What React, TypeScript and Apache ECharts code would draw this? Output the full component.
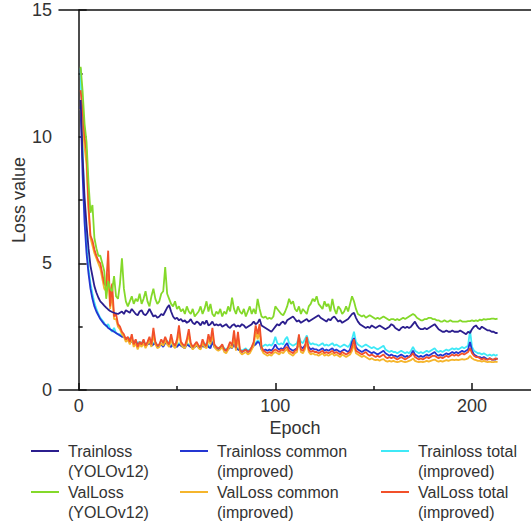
import React, { useEffect, useRef } from "react";
import * as echarts from "echarts";

const seriesNames = [
  "Trainloss\n(YOLOv12)",
  "ValLoss\n(YOLOv12)",
  "Trainloss common\n(improved)",
  "ValLoss common\n(improved)",
  "Trainloss total\n(improved)",
  "ValLoss total\n(improved)",
];
const seriesColors = ["#2B1E8E", "#84D92A", "#2436D2", "#F5B52C", "#3FE9F7", "#F2502A"];

const yTicks = [0, 5, 10, 15];
const xTickLabels = [0, 100, 200];
const xMinorTicks = [50, 150];

const trainYolo = [
  11.45, 9.2, 7.6, 6.5, 5.6, 4.9, 4.5, 4.1, 3.85, 3.65,
  3.5, 3.42, 3.33, 3.25, 3.18, 3.12, 3.08, 3.05, 3.02, 3.0,
  3.05, 3.1, 3.0, 3.15, 3.1, 3.05, 3.2, 3.1, 3.0, 2.95,
  3.1, 3.15, 3.0, 2.95, 3.05, 3.2, 3.05, 2.9, 2.95, 2.85,
  2.9, 3.0, 2.95, 3.1, 3.25, 3.35, 3.1, 2.9, 2.8, 2.85,
  2.75, 2.8, 2.7, 2.75, 2.65, 2.7, 2.8, 2.65, 2.6, 2.7,
  2.65, 2.55, 2.7, 2.6, 2.75, 2.55, 2.6, 2.7, 2.55, 2.6,
  2.55, 2.6, 2.5, 2.55, 2.6, 2.5, 2.45, 2.55, 2.6, 2.5,
  2.55, 2.5, 2.6, 2.55, 2.45, 2.5, 2.55, 2.6, 2.7, 2.6,
  2.65, 2.8, 2.55, 2.5, 2.45, 2.4, 2.35, 2.3, 2.4, 2.5,
  2.6, 2.55, 2.65, 2.7, 2.6, 2.75, 2.8, 2.85, 2.9, 2.8,
  2.7, 2.75, 2.65, 2.7, 2.75, 2.8, 2.7, 2.75, 2.8, 2.85,
  2.9, 2.95, 2.85, 2.8, 2.75, 2.7, 2.8, 2.75, 2.85, 2.9,
  2.8, 2.7, 2.75, 2.65, 2.7, 2.75, 2.8, 2.9, 3.0, 3.05,
  2.85, 2.7, 2.6, 2.55, 2.5, 2.45, 2.5, 2.45, 2.55, 2.5,
  2.45, 2.5, 2.55, 2.5, 2.45, 2.4, 2.45, 2.5, 2.6, 2.55,
  2.45, 2.4, 2.35, 2.45, 2.5, 2.45, 2.5, 2.45, 2.5, 2.6,
  2.7, 2.55, 2.45, 2.4, 2.4, 2.45, 2.4, 2.45, 2.5, 2.55,
  2.6, 2.5, 2.4, 2.35, 2.3, 2.3, 2.35, 2.3, 2.3, 2.35,
  2.3, 2.3, 2.3, 2.35, 2.3, 2.25, 2.2, 2.3, 2.25, 2.4,
  2.5, 2.55, 2.45, 2.4, 2.5, 2.45, 2.4, 2.35, 2.35, 2.3,
  2.3, 2.25, 2.25,
];

const valYolo = [
  12.76, 11.8, 10.5, 9.8, 8.2, 7.0, 7.3, 6.0, 5.6, 5.3,
  5.3, 5.0, 4.7, 3.6, 4.3, 4.0, 3.9, 4.5, 3.7, 3.6,
  4.2, 5.2, 4.0, 3.5, 3.3, 3.5, 3.7, 3.4, 3.6, 3.5,
  3.8, 3.4, 3.6, 3.9, 3.5, 3.3, 3.7, 4.0, 3.6, 3.4,
  3.5, 3.8, 3.9, 4.85, 3.8, 3.6, 3.4, 3.3, 3.5, 3.2,
  3.3, 3.1, 3.2, 3.0, 3.3, 3.1, 3.0, 3.2, 2.9, 3.0,
  3.1, 3.3, 3.0, 3.2, 3.5, 3.1, 3.4, 3.0, 2.9, 3.1,
  3.0, 3.2, 2.9, 3.1, 3.0, 3.3, 3.1, 3.65, 3.2, 3.0,
  3.3, 3.1, 3.0, 3.2, 2.9, 3.1, 3.3, 3.0, 3.2, 3.0,
  3.6, 3.2, 2.9, 2.85, 2.9, 2.8, 2.85, 2.8, 2.9, 3.3,
  3.2, 3.1, 3.0, 2.95, 3.1, 3.3, 3.6, 3.4, 3.5, 3.2,
  3.1, 3.3, 3.0, 3.2, 3.1, 3.0, 3.3, 3.4, 3.6, 3.5,
  3.7, 3.4, 3.3, 3.2, 3.5, 3.3, 3.4, 3.1, 3.6, 3.2,
  3.0, 3.3, 3.2, 3.0, 3.1, 3.3, 3.1, 3.4, 3.7, 3.5,
  3.2, 3.0, 2.95, 2.9, 2.95, 2.85, 2.9, 2.95, 2.9, 2.85,
  2.8, 2.85, 2.8, 2.85, 2.9, 2.85, 2.8, 2.75, 2.8, 2.8,
  2.75, 2.8, 2.75, 2.8, 2.85, 2.8, 2.85, 2.9, 2.95, 3.0,
  2.95, 2.85, 2.8, 2.75, 2.75, 2.8, 2.8, 2.85, 2.85, 2.8,
  2.8, 2.75, 2.75, 2.7, 2.7, 2.75, 2.7, 2.7, 2.75, 2.7,
  2.7, 2.7, 2.7, 2.75, 2.7, 2.7, 2.7, 2.72, 2.72, 2.75,
  2.72, 2.75, 2.72, 2.78, 2.75, 2.8, 2.78, 2.8, 2.8, 2.82,
  2.82, 2.8, 2.82,
];

const trainCommon = [
  11.2, 8.5, 6.6, 5.4, 4.6, 4.0, 3.6, 3.3, 3.1, 2.95,
  2.8, 2.7, 2.6, 2.55, 2.45, 2.4, 2.35, 2.3, 2.25, 2.2,
  2.15, 2.1, 2.1, 2.0, 1.95, 2.0, 1.9, 1.85, 1.9, 1.8,
  1.85, 1.8, 1.9, 1.75, 1.8, 1.85, 1.75, 1.8, 1.85, 1.7,
  1.75, 1.8, 1.7, 1.85, 1.9, 1.75, 1.7, 1.8, 1.75, 1.7,
  1.8, 1.75, 1.7, 1.65, 1.8, 1.75, 1.7, 1.65, 1.7, 1.75,
  1.7, 1.65, 1.75, 1.7, 1.8, 1.7, 1.65, 1.9, 1.7, 1.65,
  1.6, 1.65, 1.7, 1.6, 1.55, 1.6, 1.7, 1.65, 1.8, 1.65,
  1.6, 1.55, 1.5, 1.55, 1.6, 1.5, 1.55, 1.65, 1.75, 1.8,
  1.9, 1.85, 1.6, 1.55, 1.6, 1.55, 1.6, 1.55, 1.65, 1.8,
  1.65, 1.6, 1.65, 1.6, 1.75, 1.85, 1.65, 1.6, 1.55, 1.6,
  1.65, 1.8, 1.7, 1.65, 1.75, 1.85, 1.7, 1.6, 1.65, 1.6,
  1.6, 1.55, 1.6, 1.65, 1.55, 1.6, 1.55, 1.6, 1.65, 1.55,
  1.6, 1.55, 1.5, 1.55, 1.6, 1.55, 1.5, 1.6, 1.9, 2.05,
  1.7, 1.6, 1.55, 1.5, 1.55, 1.6, 1.55, 1.5, 1.45, 1.5,
  1.45, 1.4, 1.45, 1.5, 1.55, 1.45, 1.4, 1.35, 1.4, 1.35,
  1.35, 1.3, 1.35, 1.4, 1.35, 1.3, 1.35, 1.3, 1.4, 1.55,
  1.4, 1.35, 1.3, 1.35, 1.3, 1.35, 1.4, 1.35, 1.4, 1.45,
  1.5, 1.4, 1.35, 1.4, 1.35, 1.4, 1.45, 1.4, 1.45, 1.5,
  1.45, 1.5, 1.45, 1.5, 1.55, 1.5, 1.55, 1.6, 1.9, 1.55,
  1.4, 1.35, 1.3, 1.3, 1.25, 1.3, 1.25, 1.2, 1.25, 1.2,
  1.2, 1.2, 1.25,
];

const valCommon = [
  11.1, 10.4, 9.6, 8.9, 7.1, 6.0, 5.7, 5.4, 5.2, 5.0,
  4.8, 4.4, 4.0, 3.9, 4.6, 3.2, 3.8, 2.8, 2.8, 2.5,
  2.4, 2.2, 2.1, 1.9, 2.0, 1.8, 2.05, 1.7, 1.85, 1.6,
  1.8, 1.7, 1.85, 1.65, 1.8, 1.95, 1.7, 2.2, 1.8, 1.65,
  1.7, 1.85, 1.75, 1.95, 1.8, 1.7, 2.0, 1.75, 1.65, 1.85,
  2.3, 1.8, 1.7, 1.65, 1.85, 2.2, 1.75, 1.6, 1.7, 1.8,
  1.65, 1.6, 1.85, 1.7, 1.65, 2.0, 1.8, 2.2, 1.7, 1.6,
  1.55, 1.6, 1.7, 1.5, 1.45, 1.6, 1.75, 1.65, 2.1, 1.55,
  2.1, 1.5, 1.4, 1.45, 1.5, 1.4, 1.45, 1.6, 1.75, 2.3,
  2.0, 2.35, 1.6, 1.45, 1.4, 1.35, 1.4, 1.35, 1.45, 1.5,
  1.45, 1.4, 1.5, 1.45, 1.55, 1.6, 1.45, 1.4, 1.35, 1.45,
  1.5, 2.0, 1.5, 1.45, 1.6, 1.9, 1.5, 1.4, 1.45, 1.4,
  1.4, 1.35, 1.4, 1.45, 1.35, 1.4, 1.35, 1.4, 1.45, 1.35,
  1.4, 1.35, 1.3, 1.4, 1.35, 1.3, 1.35, 1.4, 1.55, 1.8,
  1.45, 1.4, 1.35, 1.3, 1.35, 1.3, 1.25, 1.2, 1.25, 1.2,
  1.18, 1.2, 1.15, 1.2, 1.22, 1.15, 1.12, 1.15, 1.12, 1.15,
  1.12, 1.1, 1.12, 1.15, 1.12, 1.1, 1.12, 1.15, 1.18, 1.25,
  1.15, 1.12, 1.1, 1.12, 1.1, 1.12, 1.15, 1.12, 1.15, 1.18,
  1.2, 1.15, 1.12, 1.15, 1.12, 1.15, 1.18, 1.15, 1.18, 1.2,
  1.18, 1.2, 1.18, 1.2, 1.22, 1.2, 1.22, 1.25, 1.35, 1.25,
  1.2, 1.18, 1.15, 1.15, 1.12, 1.15, 1.12, 1.1, 1.12, 1.1,
  1.1, 1.12, 1.1,
];

const trainTotal = [
  12.7, 9.5, 7.2, 5.8, 4.8, 4.2, 3.8, 3.45, 3.2, 3.0,
  2.85, 2.75, 2.65, 2.5, 2.6, 2.4, 2.3, 2.45, 2.25, 2.2,
  2.2, 2.15, 2.1, 2.05, 2.0, 2.05, 1.95, 1.9, 1.95, 1.85,
  1.9, 1.85, 1.95, 1.8, 1.85, 1.9, 1.8, 1.85, 1.9, 1.75,
  1.8, 1.85, 1.75, 1.9, 1.95, 1.8, 1.75, 1.85, 1.8, 1.75,
  1.85, 1.8, 1.75, 1.7, 1.85, 1.8, 1.75, 1.7, 1.75, 1.8,
  1.75, 1.7, 1.8, 1.75, 1.85, 1.75, 1.7, 1.95, 1.75, 1.7,
  1.65, 1.7, 1.75, 1.65, 1.6, 1.65, 1.75, 1.7, 1.85, 1.7,
  1.65, 1.6, 1.55, 1.6, 1.65, 1.55, 1.6, 1.7, 1.8, 1.85,
  1.95, 1.9, 1.7, 1.75, 1.8, 1.75, 1.8, 1.75, 1.85, 2.1,
  1.85, 1.8, 1.85, 1.8, 2.0, 2.1, 1.85, 1.8, 1.75, 1.8,
  1.85, 2.1, 1.9, 1.85, 2.0, 2.15, 1.9, 1.8, 1.85, 1.8,
  1.8, 1.75, 1.8, 1.85, 1.75, 1.8, 1.75, 1.8, 1.85, 1.75,
  1.8, 1.75, 1.7, 1.75, 1.8, 1.75, 1.7, 1.8, 2.0, 2.3,
  1.9, 1.8, 1.75, 1.7, 1.75, 1.8, 1.75, 1.7, 1.65, 1.7,
  1.65, 1.6, 1.65, 1.7, 1.75, 1.6, 1.55, 1.5, 1.55, 1.5,
  1.5, 1.45, 1.5, 1.55, 1.5, 1.45, 1.5, 1.45, 1.55, 1.7,
  1.55, 1.5, 1.45, 1.5, 1.45, 1.5, 1.55, 1.5, 1.55, 1.6,
  1.65, 1.55, 1.5, 1.55, 1.5, 1.55, 1.6, 1.55, 1.6, 1.65,
  1.6, 1.65, 1.6, 1.65, 1.7, 1.65, 1.7, 1.75, 2.35, 1.7,
  1.55, 1.5, 1.45, 1.45, 1.4, 1.45, 1.4, 1.35, 1.4, 1.35,
  1.4, 1.35, 1.4,
];

const valTotal = [
  11.84, 11.0, 10.0, 9.4, 7.3, 6.1, 5.9, 5.55, 5.3, 5.1,
  5.0, 4.6, 4.2, 4.1, 5.5, 3.3, 4.2, 2.9, 3.0, 2.6,
  2.5, 2.3, 2.2, 2.0, 2.1, 1.9, 2.2, 1.8, 2.0, 1.7,
  1.9, 1.8, 2.0, 1.75, 1.9, 2.1, 1.8, 2.45, 1.9, 1.75,
  1.8, 2.0, 1.85, 2.1, 1.9, 1.8, 2.2, 1.85, 1.75, 2.0,
  2.55, 1.9, 1.8, 1.75, 2.0, 2.4, 1.85, 1.7, 1.8, 1.9,
  1.75, 1.7, 2.0, 1.8, 1.75, 2.2, 1.9, 2.45, 1.8, 1.7,
  1.65, 1.7, 1.8, 1.6, 1.55, 1.7, 1.9, 1.75, 2.35, 1.65,
  2.3, 1.6, 1.5, 1.55, 1.6, 1.5, 1.55, 1.7, 1.9, 2.55,
  2.2, 2.6, 1.7, 1.55, 1.5, 1.45, 1.5, 1.45, 1.55, 1.6,
  1.55, 1.5, 1.6, 1.55, 1.65, 1.7, 1.55, 1.5, 1.45, 1.55,
  1.6, 2.2, 1.6, 1.55, 1.7, 2.1, 1.6, 1.5, 1.55, 1.5,
  1.5, 1.45, 1.5, 1.55, 1.45, 1.5, 1.45, 1.5, 1.55, 1.45,
  1.5, 1.45, 1.4, 1.5, 1.45, 1.4, 1.45, 1.5, 1.7, 2.0,
  1.55, 1.5, 1.45, 1.4, 1.45, 1.5, 1.4, 1.35, 1.4, 1.35,
  1.3, 1.35, 1.3, 1.35, 1.4, 1.3, 1.25, 1.3, 1.25, 1.3,
  1.25, 1.2, 1.25, 1.3, 1.25, 1.2, 1.25, 1.3, 1.35, 1.45,
  1.3, 1.25, 1.2, 1.25, 1.2, 1.25, 1.3, 1.25, 1.3, 1.35,
  1.35, 1.3, 1.25, 1.3, 1.25, 1.3, 1.35, 1.3, 1.35, 1.4,
  1.35, 1.4, 1.35, 1.4, 1.45, 1.4, 1.45, 1.5, 1.65, 1.45,
  1.35, 1.3, 1.3, 1.25, 1.2, 1.25, 1.2, 1.2, 1.25, 1.2,
  1.2, 1.25, 1.2,
];

const seriesValues = [trainYolo, valYolo, trainCommon, valCommon, trainTotal, valTotal];
const drawOrder = [4, 2, 3, 5, 0, 1];

const FONT = "'Liberation Sans', Arial, Helvetica, sans-serif";
const TEXT = "#333";

export default function App() {
  const ref = useRef<HTMLDivElement>(null);
  useEffect(() => {
    if (!ref.current) return;
    const chart = echarts.init(ref.current, null, { renderer: "svg" });

    const series = drawOrder.map((k) => ({
      type: "line",
      name: seriesNames[k],
      xAxisIndex: 0,
      yAxisIndex: 0,
      symbol: "none",
      data: seriesValues[k].map((v, i) => [i + 1, v]),
      lineStyle: { color: seriesColors[k], width: 1.8 },
      itemStyle: { color: seriesColors[k] },
      emphasis: { disabled: true },
    }));

    const legendCols = [31, 180, 381];
    const legendRows = [453, 494];
    const legends = seriesNames.map((name, k) => ({
      data: [name],
      left: legendCols[Math.floor(k / 2)],
      top: legendRows[k % 2] - 30,
      orient: "vertical",
      padding: 0,
      itemGap: 0,
      itemWidth: 28,
      itemHeight: 2,
      icon: "rect",
      itemStyle: { borderWidth: 0 },
      selectedMode: false,
      formatter: (n: string) => {
        const parts = n.split("\n");
        return "{e|\u00a0}\n{t|" + parts[0] + "}\n{t|" + parts[1] + "}";
      },
      textStyle: {
        fontSize: 16,
        color: TEXT,
        fontFamily: FONT,
        rich: {
          e: { fontSize: 16, lineHeight: 20, fontFamily: FONT },
          t: { fontSize: 16, lineHeight: 20, color: TEXT, fontFamily: FONT, padding: [0, 0, 0, 4] },
        },
      },
    }));

    chart.setOption({
      animation: false,
      backgroundColor: "#fff",
      grid: {
        left: 59,
        right: 0,
        top: 10,
        bottom: 137,
        containLabel: false,
        outerBoundsMode: "none",
      },
      xAxis: [
        {
          type: "value",
          min: -10,
          max: 230,
          position: "bottom",
          name: "Epoch",
          nameLocation: "middle",
          nameGap: 29,
          nameMoveOverlap: false,
          nameTextStyle: { fontSize: 18, color: TEXT, fontFamily: FONT },
          axisLine: { show: true, lineStyle: { color: "#111", width: 1.5 } },
          axisTick: { show: true, inside: true, length: 7, customValues: xTickLabels, lineStyle: { color: "#111", width: 1.5 } },
          axisLabel: { show: true, customValues: xTickLabels, fontSize: 18, color: TEXT, fontFamily: FONT, margin: 7 },
          splitLine: { show: false },
        },
        {
          type: "value",
          min: -10,
          max: 230,
          position: "bottom",
          axisLine: { show: false },
          axisTick: { show: true, inside: true, length: 4, customValues: xMinorTicks, lineStyle: { color: "#111", width: 1.5 } },
          axisLabel: { show: false },
          splitLine: { show: false },
        },
        {
          type: "value",
          min: -10,
          max: 230,
          position: "top",
          axisLine: { show: true, lineStyle: { color: "#111", width: 1.5 } },
          axisTick: { show: false },
          axisLabel: { show: false },
          splitLine: { show: false },
        },
      ],
      yAxis: {
        type: "value",
        min: 0,
        max: 15,
        interval: 5,
        name: "Loss value",
        nameLocation: "middle",
        nameGap: 31,
        nameMoveOverlap: false,
        nameTextStyle: { fontSize: 18, color: TEXT, fontFamily: FONT },
        axisLine: { show: true, lineStyle: { color: "#111", width: 1.5 } },
        axisTick: { show: true, inside: true, length: 8, lineStyle: { color: "#111", width: 1.5 } },
        minorTick: { show: true, splitNumber: 2, length: 4, lineStyle: { color: "#111", width: 1.5 } },
        axisLabel: {
          fontSize: 18,
          color: TEXT,
          fontFamily: FONT,
          margin: 7,
          customValues: yTicks,
        },
        splitLine: { show: false },
      },
      legend: legends,
      series,
    });

    return () => chart.dispose();
  }, []);

  return (
    <div
      ref={ref}
      style={{ position: "absolute", left: 0, top: 0, width: 531, height: 527 }}
    />
  );
}
